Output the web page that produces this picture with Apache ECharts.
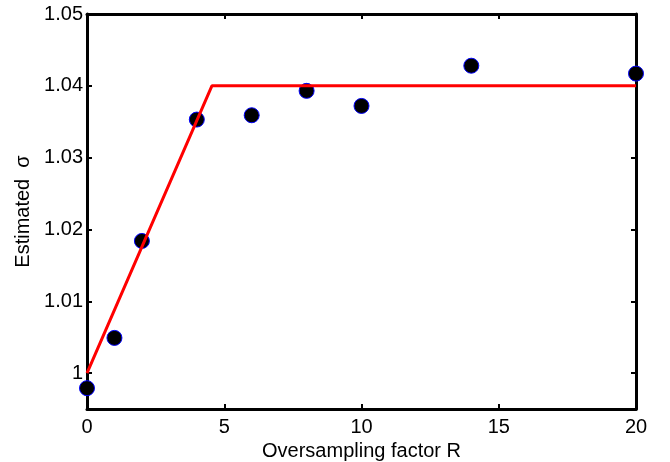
<!DOCTYPE html>
<html>
<head>
<meta charset="utf-8">
<script src="https://cdn.jsdelivr.net/npm/echarts@6/dist/echarts.min.js"></script>
<style>
  html, body { margin: 0; padding: 0; background: #fff; }
  #chart { width: 670px; height: 462px; }
</style>
</head>
<body>
<div id="chart"></div>
<script>
// measured points
var factorR = [0, 1, 2, 4, 6, 8, 10, 14, 20];
var sigmaEst = [0.9979, 1.0049, 1.0184, 1.0353, 1.0359, 1.0393, 1.0372, 1.0428, 1.0417];
// fitted piecewise line
var fitR = [0, 4.55, 20];
var fitSigma = [1.0, 1.04, 1.04];
var yTicks = [1, 1.01, 1.02, 1.03, 1.04, 1.05];
var yLabels = ['1', '1.01', '1.02', '1.03', '1.04', '1.05'];

var font = 'Liberation Sans, Arial, Helvetica, sans-serif';

function pairs(xs, ys) {
  return xs.map(function (x, i) { return [x, ys[i]]; });
}

var chart = echarts.init(document.getElementById('chart'));

var axisLine = { show: true, onZero: false, lineStyle: { color: '#000', width: 3 } };
var tick = { show: true, inside: true, length: 5, lineStyle: { color: '#000', width: 2 } };

chart.setOption({
  backgroundColor: '#fff',
  animation: false,
  grid: { left: 87, top: 14, right: 34, bottom: 53, outerBoundsMode: 'none', containLabel: false },
  xAxis: [{
    type: 'value', min: 0, max: 20, interval: 5,
    name: 'Oversampling factor R', nameLocation: 'middle', nameGap: 27,
    nameTextStyle: { fontFamily: font, fontSize: 20, color: '#000' },
    axisLine: axisLine, axisTick: tick,
    axisLabel: { fontFamily: font, fontSize: 20, color: '#000', margin: 8 },
    splitLine: { show: false }
  }, {
    type: 'value', min: 0, max: 20, interval: 5, position: 'top',
    axisLine: axisLine, axisTick: tick,
    axisLabel: { show: false }, splitLine: { show: false }
  }],
  yAxis: [{
    type: 'value', min: 0.995, max: 1.05,
    name: 'Estimated  σ', nameLocation: 'middle', nameGap: 53,
    nameTextStyle: { fontFamily: font, fontSize: 20, color: '#000' },
    axisLine: axisLine,
    axisTick: Object.assign({}, tick, { customValues: yTicks }),
    axisLabel: {
      fontFamily: font, fontSize: 20, color: '#000', margin: 4,
      customValues: yTicks,
      formatter: function (v) { return yLabels[yTicks.indexOf(Math.round(v * 100) / 100)]; }
    },
    splitLine: { show: false }
  }, {
    type: 'value', min: 0.995, max: 1.05, position: 'right',
    axisLine: axisLine,
    axisTick: Object.assign({}, tick, { customValues: yTicks }),
    axisLabel: { show: false }, splitLine: { show: false }
  }],
  series: [{
    type: 'line',
    data: pairs(fitR, fitSigma),
    symbol: 'none',
    lineStyle: { color: '#ff0000', width: 3 },
    z: 3
  }, {
    type: 'scatter',
    data: pairs(factorR, sigmaEst),
    symbol: 'circle',
    symbolSize: 15,
    itemStyle: { color: '#000', opacity: 1, borderColor: '#0000ff', borderWidth: 1 },
    z: 2
  }]
});
</script>
</body>
</html>
